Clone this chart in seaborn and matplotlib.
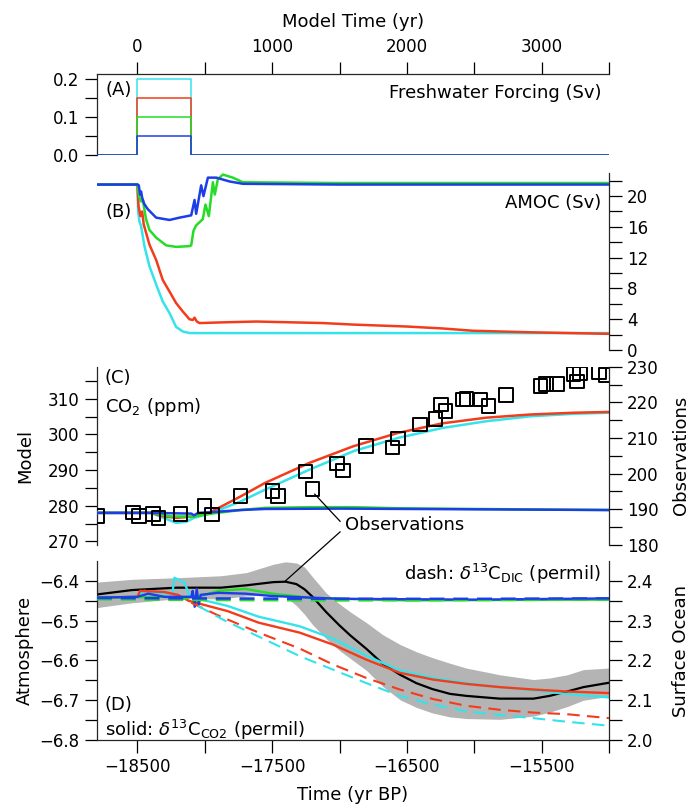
import matplotlib
matplotlib.use('Agg')
import matplotlib.pyplot as plt
import seaborn as sns
from matplotlib.ticker import FixedLocator
from matplotlib.patches import ConnectionPatch

sns.set_style('ticks')
plt.rcParams['font.family'] = ['DejaVu Sans']
plt.rcParams['font.size'] = 13
plt.rcParams['axes.linewidth'] = 0.9
plt.rcParams['text.color'] = 'black'
plt.rcParams['axes.labelcolor'] = 'black'

CYAN = '#35e3ea'
RED = '#f23c1c'
GREEN = '#26dc26'
BLUE = '#1c3ee8'

# ---- panel A: freshwater forcing (model yr, Sv)
fw_time = [-300, 0, 0, 400, 400, 3500]
fw_cyan = [0, 0, 0.20, 0.20, 0, 0]
fw_red = [0, 0, 0.15, 0.15, 0, 0]
fw_green = [0, 0, 0.10, 0.10, 0, 0]
fw_blue = [0, 0, 0.05, 0.05, 0, 0]

# ---- panel B: AMOC (model yr, Sv)
amoc_t_cyan = [-300, 0, 5, 15, 27, 52, 89, 139, 188, 238, 287, 337, 386, 500, 1500, 2500, 3500]
amoc_cyan = [21.5, 21.5, 18.0, 16.7, 16.1, 13.5, 10.9, 8.5, 6.3, 4.8, 3.0, 2.4, 2.2, 2.2, 2.2, 2.2, 2.2]
amoc_t_red = [-300, 0, 8, 22, 35, 47, 89, 139, 188, 238, 287, 337, 386, 411, 424, 441, 461,
              650, 882, 1130, 1377, 1605, 2000, 2263, 2490, 2920, 3500]
amoc_red = [21.5, 21.5, 18.7, 17.4, 18.0, 16.3, 13.7, 11.7, 9.1, 7.6, 6.1, 5.0, 4.0, 3.9, 4.2, 3.7, 3.5,
            3.6, 3.7, 3.6, 3.5, 3.3, 3.05, 2.8, 2.5, 2.3, 2.1]
amoc_t_green = [-300, 0, 15, 27, 40, 64, 89, 139, 213, 287, 386, 399, 416, 436, 485, 505, 530,
                560, 574, 597, 634, 708, 783, 1500, 3500]
amoc_green = [21.5, 21.5, 19.8, 19.3, 19.5, 17.0, 15.6, 14.6, 13.6, 13.4, 13.5, 13.6, 15.5, 16.2, 17.0, 18.9, 17.4,
              21.8, 20.2, 22.2, 22.8, 22.4, 21.8, 21.7, 21.7]
amoc_t_blue = [-300, 0, 10, 20, 27, 35, 50, 77, 139, 238, 312, 399, 424, 436, 473, 490, 523,
               585, 684, 783, 1500, 3500]
amoc_blue = [21.5, 21.5, 21.4, 20.2, 20.6, 19.8, 19.0, 18.3, 17.2, 16.9, 17.2, 17.5, 19.5, 17.7, 21.4, 20.0, 22.4,
             22.4, 21.9, 21.6, 21.5, 21.5]

# ---- panel C: CO2 (yr BP, ppm)
co2_bp_red = [-18800, -18400, -18300, -18211, -18080, -17948, -17735, -17553, -17225, -16897,
              -16568, -16239, -15911, -15582, -15253, -15000]
co2_red = [278, 278, 277, 276.6, 277, 278.4, 282.6, 286.4, 292, 296.7, 300.4, 303.1, 304.7, 305.6, 306.1, 306.3]
co2_bp_cyan = [-18800, -18400, -18300, -18211, -18140, -18079, -17948, -17735, -17553, -17225,
               -16897, -16568, -16239, -15911, -15582, -15253, -15000]
co2_cyan = [278, 278, 276.5, 275.2, 275.5, 276.6, 278, 281.2, 284.5, 290.1, 295.3, 299, 301.8, 303.7, 305.1,
            305.8, 306.1]
co2_bp_green = [-18800, -18400, -18250, -18080, -17948, -17735, -17553, -17225, -16897, -16568, -16000, -15000]
co2_green = [278, 278, 277, 277, 277.8, 278.8, 279.4, 279.6, 279.6, 279.3, 279.1, 278.8]
co2_bp_blue = [-18800, -18400, -18100, -18080, -18050, -17948, -17735, -17553, -17000, -16000, -15000]
co2_blue = [278, 278, 277.8, 277.3, 278, 278.2, 278.8, 279.1, 279.2, 279.0, 278.8]

obs_bp = [-18795, -18533, -18490, -18385, -18342, -18181, -18001, -17948, -17735, -17498, -17455,
          -17251, -17202, -17018, -16975, -16805, -16607, -16568, -16403, -16288, -16246, -16213,
          -16085, -16059, -15953, -15894, -15763, -15509, -15467, -15385, -15263, -15237, -15214,
          -15073, -15024]
obs_co2 = [188.2, 189.1, 188.2, 188.7, 187.5, 188.7, 191.0, 188.6, 193.8, 195.1, 193.8,
           200.6, 195.7, 202.9, 200.9, 207.8, 207.3, 209.8, 213.8, 215.4, 219.4, 217.6,
           220.8, 220.9, 220.8, 219.0, 222.1, 224.6, 225.1, 225.1, 227.9, 225.8, 228.1,
           228.4, 227.7]

# ---- panel D: d13C (yr BP, permil)
d13_bp_obs = [-18800, -18540, -18210, -17880, -17690, -17490, -17400, -17320, -17260, -17200,
              -17100, -17000, -16920, -16800, -16680, -16550, -16430, -16310, -16180, -16060,
              -15810, -15560, -15440, -15310, -15190, -15000]
d13_obs = [-6.434, -6.423, -6.417, -6.417, -6.411, -6.403, -6.402, -6.408, -6.421, -6.440,
           -6.478, -6.512, -6.537, -6.571, -6.608, -6.636, -6.657, -6.672, -6.684, -6.689,
           -6.696, -6.696, -6.689, -6.678, -6.667, -6.656]
d13_obs_hi = [-6.403, -6.396, -6.392, -6.387, -6.379, -6.358, -6.352, -6.355, -6.365, -6.390,
              -6.430, -6.458, -6.478, -6.505, -6.535, -6.560, -6.578, -6.593, -6.607, -6.619,
              -6.636, -6.648, -6.644, -6.636, -6.623, -6.619]
d13_obs_lo = [-6.467, -6.455, -6.445, -6.445, -6.438, -6.434, -6.440, -6.462, -6.484, -6.510,
              -6.545, -6.575, -6.595, -6.625, -6.665, -6.699, -6.718, -6.732, -6.742, -6.746,
              -6.748, -6.740, -6.730, -6.716, -6.700, -6.690]

atm_bp_red = [-18800, -18500, -18480, -18300, -18200, -18120, -17830, -17600, -17296, -17049,
              -16801, -16553, -16306, -16058, -15810, -15563, -15315, -15000]
atm_red = [-6.442, -6.440, -6.425, -6.428, -6.435, -6.450, -6.476, -6.505, -6.530, -6.560,
           -6.598, -6.631, -6.648, -6.659, -6.667, -6.673, -6.678, -6.682]
atm_bp_cyan = [-18800, -18500, -18450, -18300, -18240, -18225, -18150, -18110, -18050, -17830,
               -17600, -17296, -17049, -16801, -16553, -16306, -16058, -15810, -15563, -15315, -15000]
atm_cyan = [-6.442, -6.440, -6.425, -6.432, -6.430, -6.392, -6.405, -6.440, -6.445, -6.463,
            -6.490, -6.514, -6.545, -6.588, -6.625, -6.644, -6.657, -6.667, -6.675, -6.684, -6.693]
atm_bp_green = [-18800, -18300, -18150, -18100, -18000, -17900, -17700, -17500, -17200, -16500, -15000]
atm_green = [-6.442, -6.440, -6.445, -6.440, -6.435, -6.425, -6.420, -6.432, -6.443, -6.449, -6.447]
atm_bp_blue = [-18800, -18500, -18420, -18300, -18100, -18090, -18075, -18060, -18045, -18030,
               -17900, -17700, -17500, -17000, -16000, -15000]
atm_blue = [-6.442, -6.440, -6.432, -6.440, -6.440, -6.425, -6.465, -6.420, -6.460, -6.435,
            -6.430, -6.432, -6.438, -6.445, -6.447, -6.444]

dic_bp_red = [-18100, -17880, -17600, -17296, -17049, -16801, -16553, -16306, -16058, -15810,
              -15563, -15315, -15000]
dic_red = [2.345, 2.310, 2.270, 2.230, 2.190, 2.156, 2.127, 2.103, 2.086, 2.076, 2.069, 2.065, 2.055]
dic_bp_cyan = [-18050, -17850, -17600, -17296, -17049, -16801, -16553, -16306, -16058, -15810,
               -15563, -15315, -15000]
dic_cyan = [2.337, 2.300, 2.260, 2.211, 2.177, 2.143, 2.111, 2.089, 2.072, 2.063, 2.055, 2.046, 2.036]
dic_bp_flat = [-18800, -18000, -17000, -16000, -15000]
dic_green = [2.354, 2.352, 2.351, 2.352, 2.353]
dic_blue = [2.357, 2.356, 2.355, 2.355, 2.356]


def draw(ax, x, y, color, lw=1.8, ls='-', z=3):
    sns.lineplot(x=x, y=y, ax=ax, color=color, linewidth=lw, linestyle=ls,
                 sort=False, estimator=None, legend=False, zorder=z)


def ticks(ax):
    ax.tick_params(which='both', direction='out', length=9, width=0.9,
                   labelsize=12, pad=4, colors='black')


fig = plt.figure(figsize=(6.9, 8.07), dpi=100)
L, W = 0.1406, 0.742
axA = fig.add_axes([L, 0.8079, W, 0.1004])
axB = fig.add_axes([L, 0.5663, W, 0.2193])
axC = fig.add_axes([L, 0.3247, W, 0.2209])
axD = fig.add_axes([L, 0.0830, W, 0.2218])

# ---------- A
for y, c in [(fw_cyan, CYAN), (fw_red, RED), (fw_green, GREEN), (fw_blue, BLUE)]:
    draw(axA, fw_time, y, c, lw=1.1)
axA.set_xlim(-300, 3500)
axA.set_ylim(0, 0.212)
for s in ['right', 'bottom']:
    axA.spines[s].set_visible(False)
axA.xaxis.tick_top()
axA.xaxis.set_label_position('top')
axA.xaxis.set_major_locator(FixedLocator([0, 1000, 2000, 3000]))
axA.xaxis.set_minor_locator(FixedLocator([500, 1500, 2500, 3500]))
axA.yaxis.set_major_locator(FixedLocator([0, 0.1, 0.2]))
axA.yaxis.set_minor_locator(FixedLocator([0.05, 0.15]))
axA.yaxis.set_major_formatter(lambda v, p: f'{v:.1f}')
ticks(axA)
axA.set_xlabel('Model Time (yr)')
axA.set_ylabel('')
axA.xaxis.set_label_coords(0.5, 1.58)
axA.text(0.016, 0.80, '(A)', transform=axA.transAxes, va='center', ha='left')
axA.text(0.986, 0.765, 'Freshwater Forcing (Sv)', transform=axA.transAxes, va='center', ha='right')

# ---------- B
for t, y, c in [(amoc_t_cyan, amoc_cyan, CYAN), (amoc_t_red, amoc_red, RED),
                (amoc_t_green, amoc_green, GREEN), (amoc_t_blue, amoc_blue, BLUE)]:
    draw(axB, t, y, c)
axB.set_xlim(-300, 3500)
axB.set_ylim(0, 23)
for s in ['left', 'top', 'bottom']:
    axB.spines[s].set_visible(False)
axB.yaxis.tick_right()
axB.yaxis.set_major_locator(FixedLocator([0, 4, 8, 12, 16, 20]))
axB.yaxis.set_minor_locator(FixedLocator([2, 6, 10, 14, 18, 22]))
axB.tick_params(axis='x', which='both', bottom=False, labelbottom=False)
ticks(axB)
axB.set_xlabel('')
axB.set_ylabel('')
axB.text(0.016, 0.781, '(B)', transform=axB.transAxes, va='center', ha='left')
axB.text(0.984, 0.832, 'AMOC (Sv)', transform=axB.transAxes, va='center', ha='right')

# ---------- C
axC2 = axC.twinx()
for x, y, c in [(co2_bp_cyan, co2_cyan, CYAN), (co2_bp_red, co2_red, RED),
                (co2_bp_green, co2_green, GREEN), (co2_bp_blue, co2_blue, BLUE)]:
    draw(axC, x, y, c)
sns.scatterplot(x=obs_bp, y=obs_co2, ax=axC2, marker='s', s=95, facecolor='none',
                edgecolor='black', linewidth=1.4, legend=False, zorder=4, clip_on=True)
axC.set_xlim(-18800, -15000)
axC2.set_xlim(-18800, -15000)
axC.set_ylim(269, 319)
axC2.set_ylim(180, 230)
for s in ['right', 'top', 'bottom']:
    axC.spines[s].set_visible(False)
for s in ['left', 'top', 'bottom']:
    axC2.spines[s].set_visible(False)
axC.yaxis.set_major_locator(FixedLocator([270, 280, 290, 300, 310]))
axC.yaxis.set_minor_locator(FixedLocator([275, 285, 295, 305, 315]))
axC2.yaxis.set_major_locator(FixedLocator([180, 190, 200, 210, 220, 230]))
axC2.yaxis.set_minor_locator(FixedLocator([185, 195, 205, 215, 225]))
for a in (axC, axC2):
    a.tick_params(axis='x', which='both', bottom=False, labelbottom=False, top=False)
    ticks(a)
    a.set_xlabel('')
axC.set_ylabel('Model')
axC2.set_ylabel('Observations')
axC.yaxis.set_label_coords(-0.123, 0.5)
axC2.yaxis.set_label_coords(1.123, 0.5)
axC.text(0.015, 0.935, '(C)', transform=axC.transAxes, va='center', ha='left')
axC.text(0.015, 0.772, 'CO$_2$ (ppm)', transform=axC.transAxes, va='center', ha='left')
axC.text(-16960, 274.6, 'Observations', va='center', ha='left', zorder=6)
axC.annotate('', xy=(-17185, 283.3), xytext=(-16995, 275.6),
             arrowprops=dict(arrowstyle='-', lw=0.9, color='black', shrinkA=0, shrinkB=0))

# ---------- D
axD2 = axD.twinx()
axD.fill_between(d13_bp_obs, d13_obs_lo, d13_obs_hi, color='#b4b4b4', lw=0, zorder=1)
draw(axD, d13_bp_obs, d13_obs, 'black', lw=1.6, z=2)
for x, y, c in [(atm_bp_cyan, atm_cyan, CYAN), (atm_bp_red, atm_red, RED),
                (atm_bp_green, atm_green, GREEN), (atm_bp_blue, atm_blue, BLUE)]:
    draw(axD, x, y, c, lw=1.7)
dash = (0, (6, 3.5))
draw(axD2, dic_bp_red, dic_red, RED, lw=1.5, ls=dash)
draw(axD2, dic_bp_cyan, dic_cyan, CYAN, lw=1.5, ls=dash)
draw(axD2, dic_bp_flat, dic_green, GREEN, lw=1.8, ls=dash)
draw(axD2, dic_bp_flat, dic_blue, BLUE, lw=1.8, ls=dash)
axD.set_xlim(-18800, -15000)
axD2.set_xlim(-18800, -15000)
axD.set_ylim(-6.8, -6.35)
axD2.set_ylim(2.0, 2.45)
for s in ['right', 'top']:
    axD.spines[s].set_visible(False)
for s in ['left', 'top', 'bottom']:
    axD2.spines[s].set_visible(False)
axD.xaxis.set_major_locator(FixedLocator([-18500, -17500, -16500, -15500]))
axD.xaxis.set_minor_locator(FixedLocator([-18000, -17000, -16000, -15000]))
axD.yaxis.set_major_locator(FixedLocator([-6.8, -6.7, -6.6, -6.5, -6.4]))
axD.yaxis.set_minor_locator(FixedLocator([-6.75, -6.65, -6.55, -6.45]))
axD.yaxis.set_major_formatter(lambda v, p: f'{v:.1f}'.replace('-', '\u2212'))
axD2.yaxis.set_major_locator(FixedLocator([2.0, 2.1, 2.2, 2.3, 2.4]))
axD2.yaxis.set_minor_locator(FixedLocator([2.05, 2.15, 2.25, 2.35]))
axD2.yaxis.set_major_formatter(lambda v, p: f'{v:.1f}')
axD2.tick_params(axis='x', which='both', bottom=False, labelbottom=False)
ticks(axD)
ticks(axD2)
axD.set_xlabel('Time (yr BP)')
axD.xaxis.set_label_coords(0.5, -0.255)
axD.set_ylabel('Atmosphere')
axD2.set_ylabel('Surface Ocean')
axD.yaxis.set_label_coords(-0.123, 0.5)
axD2.yaxis.set_label_coords(1.123, 0.5)
axD.text(0.984, 0.927, 'dash: $\\delta^{13}$C$_{\\rm DIC}$ (permil)', transform=axD.transAxes,
         va='center', ha='right', zorder=6)
axD.text(0.015, 0.196, '(D)', transform=axD.transAxes, va='center', ha='left')
axD.text(0.015, 0.056, 'solid: $\\delta^{13}$C$_{\\rm CO2}$ (permil)', transform=axD.transAxes,
         va='center', ha='left')

con = ConnectionPatch(xyA=(-16995, 272.7), coordsA=axC.transData,
                      xyB=(-17408, -6.402), coordsB=axD.transData,
                      color='black', lw=0.9, zorder=10)
fig.add_artist(con)

fig.savefig('out.png', dpi=100)
